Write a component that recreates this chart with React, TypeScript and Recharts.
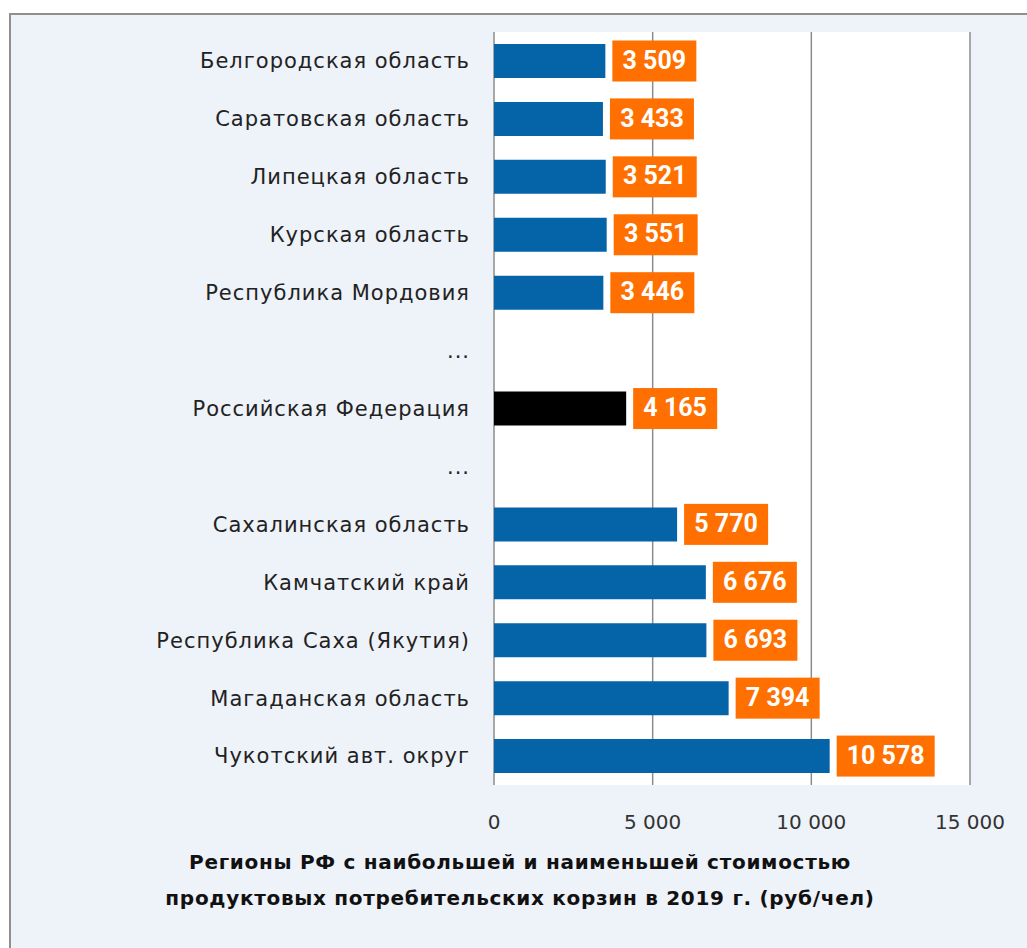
import { BarChart, Bar, XAxis, YAxis, CartesianGrid, Cell, LabelList } from 'recharts'

const regions = [
  'Белгородская область',
  'Саратовская область',
  'Липецкая область',
  'Курская область',
  'Республика Мордовия',
  '...',
  'Российская Федерация',
  '... ',
  'Сахалинская область',
  'Камчатский край',
  'Республика Саха (Якутия)',
  'Магаданская область',
  'Чукотский авт. округ',
]

const costs: (number | null)[] = [3509, 3433, 3521, 3551, 3446, null, 4165, null, 5770, 6676, 6693, 7394, 10578]

const xTicks = [0, 5000, 10000, 15000]

const BLUE = '#0563a8'
const ORANGE = '#ff7000'
const FONT = '"DejaVu Sans", sans-serif'

const fmt = (v: number) => String(v).replace(/\B(?=(\d{3})+(?!\d))/g, ' ')

function ValueBadge(props: any) {
  const { x, y, width, height, value } = props
  if (value == null) return null
  const text = fmt(value)
  const w = text.length * 14 + 14
  const h = 41
  const bx = x + width + 7
  const cy = y + height / 2
  return (
    <g>
      <rect x={bx} y={cy - h / 2} width={w} height={h} fill={ORANGE} />
      <text
        x={bx + w / 2}
        y={cy + 1}
        fill="#fff"
        fontFamily="Roboto, sans-serif"
        fontWeight={700}
        fontSize={25}
        textAnchor="middle"
        dominantBaseline="middle"
      >
        {text}
      </text>
    </g>
  )
}

export default function App() {
  const data = regions.map((region, i) => ({ region, cost: costs[i] }))

  return (
    <div style={{ position: 'relative', width: 1027, height: 948, overflow: 'hidden' }}>
      <style>{`body { margin: 0; overflow: hidden; }`}</style>
      <div
        style={{
          position: 'absolute',
          left: 9,
          top: 13,
          width: 1040,
          height: 960,
          background: '#eef2f9',
          borderTop: '2px solid #8f8f8f',
          borderLeft: '2px solid #8f8f8f',
        }}
      />
      <div style={{ position: 'absolute', left: 0, top: 0 }}>
        <BarChart
          layout="vertical"
          width={1027}
          height={948}
          data={data}
          margin={{ top: 32, right: 57, bottom: 123, left: 0 }}
        >
          <CartesianGrid horizontal={false} fill="#ffffff" stroke="#8c8c8c" strokeWidth={1.5} />
          <XAxis
            type="number"
            domain={[0, 15000]}
            ticks={xTicks}
            tickFormatter={fmt}
            axisLine={false}
            tickLine={false}
            tickSize={0}
            tickMargin={30}
            height={40}
            tick={{ fill: '#333', fontSize: 20, fontFamily: FONT }}
          />
          <YAxis
            type="category"
            dataKey="region"
            width={494}
            axisLine={false}
            tickLine={false}
            tickSize={0}
            tickMargin={24}
            interval={0}
            tick={{ fill: '#222', fontSize: 21, fontFamily: FONT, letterSpacing: 1 }}
          />
          <Bar dataKey="cost" barSize={34} isAnimationActive={false}>
            {data.map((d, i) => (
              <Cell key={i} fill={d.region === 'Российская Федерация' ? '#000000' : BLUE} />
            ))}
            <LabelList dataKey="cost" content={ValueBadge} />
          </Bar>
        </BarChart>
      </div>
      <div
        style={{
          position: 'absolute',
          left: 70,
          width: 900,
          top: 844,
          textAlign: 'center',
          fontFamily: FONT,
          fontWeight: 700,
          fontSize: 20,
          letterSpacing: 0.7,
          lineHeight: '36px',
          color: '#111',
        }}
      >
        Регионы РФ с наибольшей и наименьшей стоимостью
        <br />
        продуктовых потребительских корзин в 2019 г. (руб/чел)
      </div>
    </div>
  )
}
